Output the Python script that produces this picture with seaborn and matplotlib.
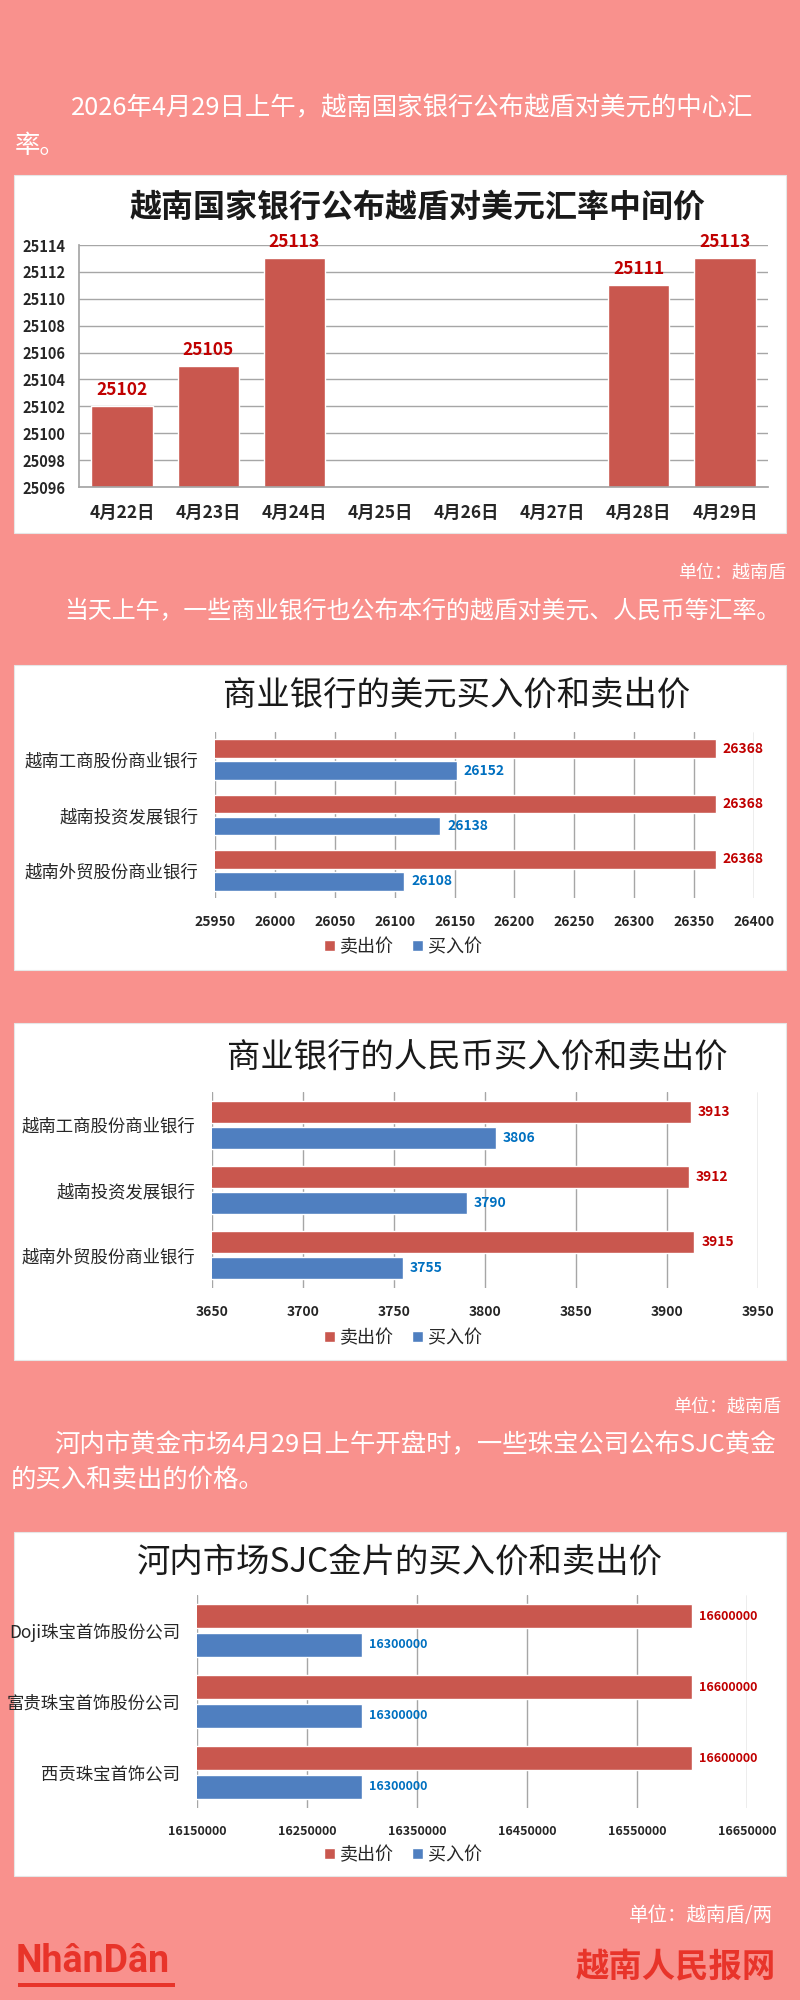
import numpy as np
import pandas as pd
import seaborn as sns
import matplotlib.pyplot as plt
from matplotlib.patches import Rectangle, Patch

dates = ["4月22日", "4月23日", "4月24日", "4月25日", "4月26日", "4月27日", "4月28日", "4月29日"]
mid_rate = [25102, 25105, 25113, None, None, None, 25111, 25113]
rate_ticks = list(range(25096, 25115, 2))

banks = ["越南工商股份商业银行", "越南投资发展银行", "越南外贸股份商业银行"]
usd_sell = [26368, 26368, 26368]
usd_buy = [26152, 26138, 26108]
usd_ticks = list(range(25950, 26401, 50))

cny_sell = [3913, 3912, 3915]
cny_buy = [3806, 3790, 3755]
cny_ticks = list(range(3650, 3951, 50))

gold_shops = ["Doji珠宝首饰股份公司", "富贵珠宝首饰股份公司", "西贡珠宝首饰公司"]
gold_sell = [16600000, 16600000, 16600000]
gold_buy = [16300000, 16300000, 16300000]
gold_ticks = [16150000, 16250000, 16350000, 16450000, 16550000, 16650000]

types = ["卖出价", "买入价"]

BG = "#F9918D"
RED = "#C9574E"
BLUE = "#4F7FC0"
RED_TXT = "#C00000"
BLUE_TXT = "#0070C0"
GRID = "#A6A6A6"
LOGO = "#E8342A"

sns.set_theme(style="white")
plt.rcParams["font.family"] = ["Noto Sans CJK SC", "DejaVu Sans"]

W, H = 800, 2000
fig = plt.figure(figsize=(W / 100, H / 100), dpi=100, facecolor=BG)


def add_ax(l, t, r, b):
    return fig.add_axes([l / W, 1 - b / H, (r - l) / W, (b - t) / H])


def panel(t, b):
    fig.add_artist(Rectangle((14 / W, 1 - b / H), (786 - 14) / W, (b - t) / H,
                             transform=fig.transFigure, facecolor="white",
                             edgecolor="#E6E6E6", lw=0.8, zorder=-1))


def ftext(x, y, s, **kw):
    fig.text(x / W, 1 - y / H, s, va="center", **kw)


# paragraphs
ftext(71, 108, "2026年4月29日上午，越南国家银行公布越盾对美元的中心汇", color="white", fontsize=18.3)
ftext(15, 146, "率。", color="white", fontsize=18.3)
ftext(786, 573, "单位：越南盾", color="white", fontsize=13, ha="right")
ftext(64, 612, "当天上午，一些商业银行也公布本行的越盾对美元、人民币等汇率。", color="white", fontsize=17.2)
ftext(781, 1407, "单位：越南盾", color="white", fontsize=13, ha="right")
ftext(54, 1445, "河内市黄金市场4月29日上午开盘时，一些珠宝公司公布SJC黄金", color="white", fontsize=18.3)
ftext(11, 1480, "的买入和卖出的价格。", color="white", fontsize=18.3)
ftext(773, 1915, "单位：越南盾/两", color="white", fontsize=14, ha="right")

# chart 1: central rate
panel(175, 533)
ftext(418, 208, "越南国家银行公布越盾对美元汇率中间价", fontsize=23, fontweight="bold",
      ha="center", color="#1A1A1A")
ax1 = add_ax(79, 245, 768, 487)
rate_df = pd.DataFrame({"date": dates, "rate": mid_rate}).dropna()
sns.barplot(data=rate_df, x="date", y="rate", order=dates, color=RED, width=0.71,
            errorbar=None, saturation=1, ax=ax1)
ax1.set_ylim(25096, 25114)
ax1.set_yticks(rate_ticks)
ax1.set_xlim(-0.5, 7.5)
ax1.set_xlabel("")
ax1.set_ylabel("")
ax1.grid(axis="y", color=GRID, lw=1)
ax1.set_axisbelow(True)
for s in ["top", "right"]:
    ax1.spines[s].set_visible(False)
for s in ["left", "bottom"]:
    ax1.spines[s].set_color(GRID)
ax1.tick_params(axis="y", length=0, pad=10, labelsize=10.5)
ax1.tick_params(axis="x", length=0, pad=12, labelsize=12.5)
for lab in ax1.get_yticklabels() + ax1.get_xticklabels():
    lab.set_fontweight("bold")
ax1.bar_label(ax1.containers[0], labels=[str(int(v)) for v in rate_df["rate"]],
              padding=5, color=RED_TXT, fontsize=12.5, fontweight="bold")


def hbar_chart(box, plot, title, title_xy, names, sell, buy, ticks, lab_fs, val_fs, legend_y):
    panel(*box)
    ftext(title_xy[0], title_xy[1], title, fontsize=24, ha="center", color="#1A1A1A")
    ax = add_ax(*plot)
    df = pd.DataFrame({
        "name": names * 2,
        "type": [types[0]] * len(names) + [types[1]] * len(names),
        "price": sell + buy,
    })
    sns.barplot(data=df, y="name", x="price", hue="type", hue_order=types, order=names,
                palette={types[0]: RED, types[1]: BLUE}, orient="h", width=0.8, gap=0.16,
                errorbar=None, saturation=1, legend=False, ax=ax)
    ax.set_xlim(ticks[0], ticks[-1])
    ax.set_xticks(ticks)
    ax.set_xticklabels([str(v) for v in ticks])
    ax.set_ylim(len(names) - 0.5, -0.5)
    ax.set_xlabel("")
    ax.set_ylabel("")
    ax.grid(axis="x", color=GRID, lw=1)
    ax.grid(axis="y", visible=False)
    ax.set_axisbelow(True)
    for s in ax.spines.values():
        s.set_visible(False)
    ax.tick_params(axis="y", length=0, pad=12, labelsize=12.5)
    ax.tick_params(axis="x", length=0, pad=12, labelsize=lab_fs)
    for lab in ax.get_xticklabels():
        lab.set_fontweight("bold")
    ax.bar_label(ax.containers[0], labels=[str(v) for v in sell], padding=5,
                 color=RED_TXT, fontsize=val_fs, fontweight="bold")
    ax.bar_label(ax.containers[1], labels=[str(v) for v in buy], padding=5,
                 color=BLUE_TXT, fontsize=val_fs, fontweight="bold")
    handles = [Patch(facecolor=RED, label=types[0]), Patch(facecolor=BLUE, label=types[1])]
    fig.legend(handles=handles, loc="center", bbox_to_anchor=(403 / W, 1 - legend_y / H),
               ncol=2, frameon=False, fontsize=13, handlelength=0.6, handleheight=0.6,
               handletextpad=0.3, columnspacing=1.0)
    return ax


hbar_chart((665, 970), (215, 732, 754, 898), "商业银行的美元买入价和卖出价", (457, 695),
           banks, usd_sell, usd_buy, usd_ticks, 10, 10, 947)

hbar_chart((1023, 1360), (212, 1092, 758, 1288), "商业银行的人民币买入价和卖出价", (477, 1057),
           banks, cny_sell, cny_buy, cny_ticks, 10, 10, 1338)

hbar_chart((1532, 1876), (197, 1595, 747, 1808), "河内市场SJC金片的买入价和卖出价", (400, 1562),
           gold_shops, gold_sell, gold_buy, gold_ticks, 9, 9, 1855)

# footer logos
ftext(16, 1962, "NhânDân", color=LOGO, fontsize=27, fontweight="bold",
      family=["Roboto", "DejaVu Sans"])
fig.add_artist(Rectangle((18 / W, 1 - 1987 / H), (175 - 18) / W, 4 / H,
                         transform=fig.transFigure, facecolor=LOGO, edgecolor="none"))
ftext(776, 1968, "越南人民报网", color=LOGO, fontsize=24, fontweight="bold", ha="right")

fig.savefig("out.png", dpi=100, facecolor=BG)
